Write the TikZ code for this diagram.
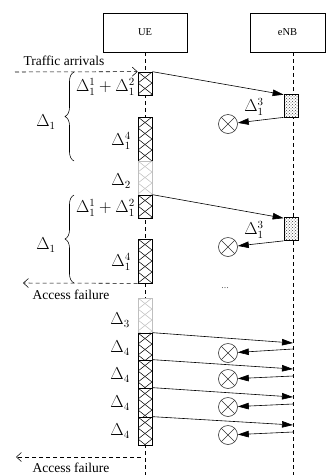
\documentclass[tikz,border=0pt]{standalone}
\usepackage{fontspec}
\setmainfont{Liberation Serif}
\usetikzlibrary{arrows.meta,patterns,decorations.pathreplacing,calc}
\begin{document}
\begin{tikzpicture}[x=1pt,y=-1pt,
  hdr/.style={draw, line width=0.6pt, minimum height=39pt, inner sep=0pt, font=\fontsize{10.5}{12}\selectfont},
  life/.style={dash pattern=on 4pt off 3pt, line width=0.6pt},
  xhatch/.style={draw=#1, line width=0.7pt, fill=white, minimum width=14pt, inner sep=0pt,
    path picture={
      \foreach \k in {0,...,5}{
        \draw[#1, line width=0.5pt] ([yshift=-\k*11pt]path picture bounding box.north west) -- ++(14pt,-11pt);
        \draw[#1, line width=0.5pt] ([yshift=-\k*11pt-11pt]path picture bounding box.north west) -- ++(14pt,11pt);}}},
  dotbox/.style={draw, line width=0.7pt, minimum width=14pt, minimum height=23pt, inner sep=0pt,
    preaction={fill=white}, pattern=crosshatch dots, pattern color=black!75},
  otimes/.style={draw=black!80, circle, line width=0.6pt, minimum size=19pt, inner sep=0pt,
    path picture={\draw[black!80, line width=0.6pt] (path picture bounding box.north west) -- (path picture bounding box.south east)
      (path picture bounding box.north east) -- (path picture bounding box.south west);}},
  msg/.style={line width=0.6pt, -{Triangle[length=11pt,width=6.5pt]}},
  dasharr/.style={line width=0.55pt, dash pattern=on 4pt off 3pt, -{Straight Barb[length=5pt,width=9pt]}},
  lbl/.style={font=\fontsize{16}{18}\selectfont, inner sep=0pt, anchor=east},
  txt/.style={font=\fontsize{13.5}{15}\selectfont, inner sep=0pt},
  brc/.style={line width=0.55pt, decorate, decoration={brace, amplitude=9pt}}
]
\useasboundingbox (0,0) rectangle (326,475);

% headers and lifelines
\node[hdr, minimum width=84pt] (ue) at (145,32.5) {UE};
\node[hdr, minimum width=75pt] (enb) at (287.5,32.5) {eNB};
\coordinate (uetop) at (145,52);
\coordinate (uebot) at (145,475);
\coordinate (enbtop) at (293,52);
\coordinate (enbbot) at (293,475);
\draw[life] (uetop) -- (uebot);
\draw[life] (enbtop) -- (enbbot);

% UE blocks
\node[xhatch=black, minimum height=23pt] (b1) at (145,83.5) {};
\node[xhatch=black, minimum height=44pt] (b2) at (145,139) {};
\node[xhatch=black!25, minimum height=34pt] (b3) at (145,178) {};
\node[xhatch=black, minimum height=23pt] (b4) at (145,206.5) {};
\node[xhatch=black, minimum height=44pt] (b5) at (145,261) {};
\node[xhatch=black!25, minimum height=35pt] (b6) at (145,315.5) {};
\node[xhatch=black, minimum height=27pt] (b7) at (145,346.5) {};
\node[xhatch=black, minimum height=28pt] (b8) at (145,374) {};
\node[xhatch=black, minimum height=29pt] (b9) at (145,402.5) {};
\node[xhatch=black, minimum height=28pt] (b10) at (145,431) {};

% eNB blocks
\node[dotbox] (e1) at (291,105.5) {};
\node[dotbox] (e2) at (291,229) {};

% texts
\node[txt] (ta) at (64,61) {Traffic arrivals};
\node[txt] (af1) at (71,295) {Access failure};
\node[txt] (af2) at (71,468) {Access failure};
\node[font=\fontsize{10}{11}\selectfont, text=black!60] (dots) at (225,288) {...};

\coordinate (tastart) at (15,72);
\draw[dasharr] (tastart) -- (b1.north west);
\coordinate (af1end) at (23,283);
\draw[dasharr] (b5.south west) -- (af1end);
\coordinate (af2start) at (141,457);
\coordinate (af2end) at (16,457);
\draw[dasharr] (af2start) -- (af2end);

% labels
\node[lbl] (l1) at (135,87) {$\Delta_1^1+\Delta_1^2$};
\node[lbl] (l2) at (131,141) {$\Delta_1^4$};
\node[lbl] (l3) at (131,181) {$\Delta_2$};
\node[lbl] (l4) at (135,208) {$\Delta_1^1+\Delta_1^2$};
\node[lbl] (l5) at (131,262) {$\Delta_1^4$};
\node[lbl] (l6) at (130,320) {$\Delta_3$};
\node[lbl] (l7) at (130,348) {$\Delta_4$};
\node[lbl] (l8) at (130,375) {$\Delta_4$};
\node[lbl] (l9) at (130,403) {$\Delta_4$};
\node[lbl] (l10) at (130,431) {$\Delta_4$};
\node[lbl, anchor=center] (d1) at (46,122) {$\Delta_1$};
\node[lbl, anchor=center] (d2) at (46,245) {$\Delta_1$};
\node[lbl, anchor=center] (e3a) at (254,107) {$\Delta_1^3$};
\node[lbl, anchor=center] (e3b) at (254,230) {$\Delta_1^3$};

% braces
\draw[brc] (74,161) -- (74,72);
\draw[brc] (74,283) -- (74,195);

% circles
\node[otimes] (c1) at (228,124) {};
\node[otimes] (c2) at (228,247) {};
\node[otimes] (c7) at (228,353) {};
\node[otimes] (c8) at (228,379) {};
\node[otimes] (c9) at (228,407) {};
\node[otimes] (c10) at (228,435) {};

% messages
\draw[msg] (b1.north east) -- ([yshift=-1pt]e1.north west);
\draw[msg] (e1.south west) -- (c1);
\draw[msg] (b4.north east) -- ([yshift=-1pt]e2.north west);
\draw[msg] (e2.south west) -- (c2);

\coordinate (t7) at (293,343); \coordinate (s7) at (293,349);
\coordinate (t8) at (293,369); \coordinate (s8) at (293,376);
\coordinate (t9) at (293,397); \coordinate (s9) at (293,404);
\coordinate (t10) at (293,425); \coordinate (s10) at (293,432);
\draw[msg] (b7.north east) -- (t7);
\draw[msg] (s7) -- (c7);
\draw[msg] (b8.north east) -- (t8);
\draw[msg] (s8) -- (c8);
\draw[msg] (b9.north east) -- (t9);
\draw[msg] (s9) -- (c9);
\draw[msg] (b10.north east) -- (t10);
\draw[msg] (s10) -- (c10);
\end{tikzpicture}
\end{document}
